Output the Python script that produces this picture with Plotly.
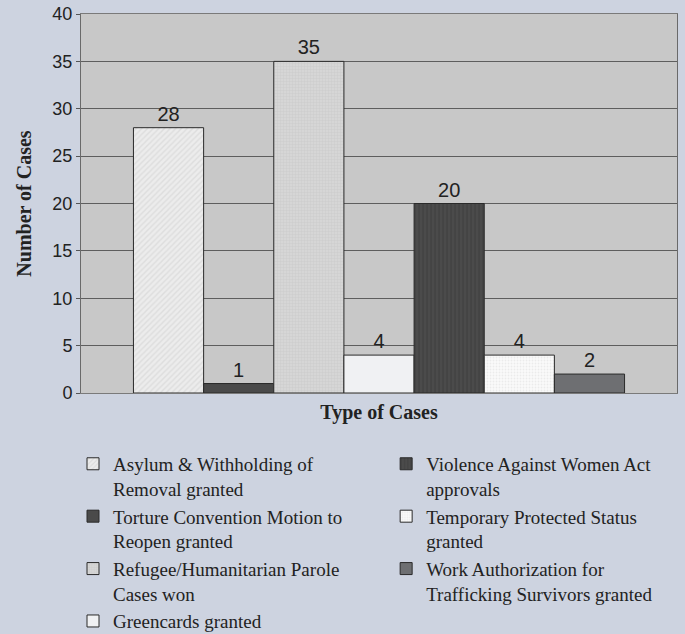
import plotly.graph_objects as go

categories = [
    "Asylum & Withholding of<br>Removal granted",
    "Torture Convention Motion to<br>Reopen granted",
    "Refugee/Humanitarian Parole<br>Cases won",
    "Greencards granted",
    "Violence Against Women Act<br>approvals",
    "Temporary Protected Status<br>granted",
    "Work Authorization for<br>Trafficking Survivors granted",
]
values = [28, 1, 35, 4, 20, 4, 2]
legend_group = ["legend", "legend", "legend", "legend", "legend2", "legend2", "legend2"]

y_ticks = [0, 5, 10, 15, 20, 25, 30, 35, 40]

styles = [
    dict(shape="/", fg="#cdcdcd", bg="#ececec", size=4, solidity=0.35),
    dict(shape="", fg="#4a4a4a", bg="#4a4a4a", size=4, solidity=0.2),
    dict(shape="+", fg="#c2c2c2", bg="#d6d6d6", size=3, solidity=0.3),
    dict(shape="", fg="#f0f1f3", bg="#f0f1f3", size=4, solidity=0.2),
    dict(shape="|", fg="#3a3a3a", bg="#4b4b4b", size=4, solidity=0.4),
    dict(shape=".", fg="#dcdcdc", bg="#fafafa", size=3, solidity=0.3),
    dict(shape="", fg="#6e6f72", bg="#6e6f72", size=4, solidity=0.2),
]

fig = go.Figure()
for name, v, lg, st in zip(categories, values, legend_group, styles):
    fig.add_trace(go.Bar(
        x=["Type of Cases"], y=[v], name=name, legend=lg,
        marker=dict(
            color=st["bg"],
            line=dict(color="#2a2a2a", width=1),
            pattern=dict(shape=st["shape"], fgcolor=st["fg"], bgcolor=st["bg"],
                         size=st["size"], solidity=st["solidity"], fillmode="overlay"),
        ),
        text=[str(v)], textposition="outside", cliponaxis=False,
        textfont=dict(family="Liberation Sans", size=20, color="#222222"),
    ))

legend_font = dict(family="Liberation Serif", size=19, color="#222222")
fig.update_layout(
    width=685, height=634,
    margin=dict(l=81, r=8, t=14, b=241, autoexpand=False),
    paper_bgcolor="#cdd3e0",
    plot_bgcolor="#c8c8c8",
    barmode="group",
    bargap=0.176,
    bargroupgap=0,
    showlegend=True,
    legend=dict(x=-0.0134, y=-0.137, xanchor="left", yanchor="top", valign="top",
                bgcolor="rgba(0,0,0,0)", font=legend_font, traceorder="normal"),
    legend2=dict(x=0.512, y=-0.137, xanchor="left", yanchor="top", valign="top",
                 bgcolor="rgba(0,0,0,0)", font=legend_font, traceorder="normal"),
    xaxis=dict(
        showticklabels=False, ticks="",
        showline=True, mirror=True, linecolor="#7a7a7a", linewidth=1,
        title=dict(text="<b>Type of Cases</b>", standoff=11,
                   font=dict(family="Liberation Serif", size=20, color="#222222")),
    ),
    yaxis=dict(
        range=[0, 40], tickvals=y_ticks, ticktext=[str(t) for t in y_ticks],
        ticks="outside", ticklen=4, tickcolor="#555555",
        tickfont=dict(family="Liberation Sans", size=18, color="#222222"),
        showgrid=True, gridcolor="#5e5e5e", gridwidth=1,
        showline=True, mirror=True, linecolor="#6a6a6a", linewidth=1,
        zeroline=False,
        title=dict(text="<b>Number of Cases</b>", standoff=15,
                   font=dict(family="Liberation Serif", size=20, color="#222222")),
    ),
)

fig.write_html("out.html")
